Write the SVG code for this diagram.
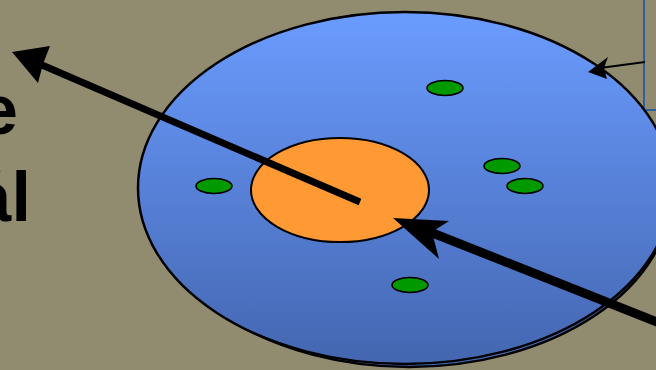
<svg xmlns="http://www.w3.org/2000/svg" width="656" height="370" viewBox="0 0 656 370">
<defs>
<linearGradient id="disc" x1="0" y1="0" x2="0" y2="1">
<stop offset="0" stop-color="#6a9cff"/>
<stop offset="1" stop-color="#4466b0"/>
</linearGradient>
<style>
.dot{fill:#009900;stroke:#000;stroke-width:1.5}
.lbl{font-family:"Liberation Sans",Arial,sans-serif;font-weight:bold;font-size:70px;fill:#000}
.ln{stroke:#000;fill:none}
.hd{fill:#000}
</style>
</defs>
<rect width="656" height="370" fill="#918c70"/>
<g id="box"><rect x="644" y="-5" width="30" height="115" fill="none" stroke="#2f5f9f" stroke-width="2"/></g>
<g id="labels">
<text class="lbl" x="18" y="134" text-anchor="end">e</text>
<text class="lbl" x="31" y="221" text-anchor="end">ål</text>
</g>
<g id="disc-node">
<ellipse cx="409" cy="191" rx="263" ry="176" fill="#4a6cb8" stroke="#000" stroke-width="2.5"/>
<ellipse cx="405" cy="188" rx="267" ry="176" fill="url(#disc)" stroke="#000" stroke-width="2.5"/>
</g>
<g id="core"><ellipse cx="340" cy="190" rx="89" ry="52" fill="#ff9933" stroke="#000" stroke-width="2"/></g>
<g id="dots">
<ellipse class="dot" cx="445" cy="88" rx="18" ry="7.5"/>
<ellipse class="dot" cx="214" cy="186" rx="18" ry="7.5"/>
<ellipse class="dot" cx="502" cy="166" rx="18" ry="7.5"/>
<ellipse class="dot" cx="525" cy="186" rx="18" ry="7.5"/>
<ellipse class="dot" cx="410" cy="285" rx="18" ry="7.5"/>
</g>
<g id="connectors">
<line class="ln" x1="360" y1="202" x2="42" y2="65" stroke-width="7"/>
<polygon class="hd" points="12,52 50,46 43,64 38,83"/>
<line class="ln" x1="662" y1="324" x2="430" y2="232" stroke-width="9"/>
<polygon class="hd" points="393,218 449,221 432,232 439,259"/>
<line class="ln" x1="645" y1="62" x2="600" y2="68" stroke-width="2"/>
<polygon class="hd" points="588,72 608,57 604,68 607,79"/>
</g>
</svg>
